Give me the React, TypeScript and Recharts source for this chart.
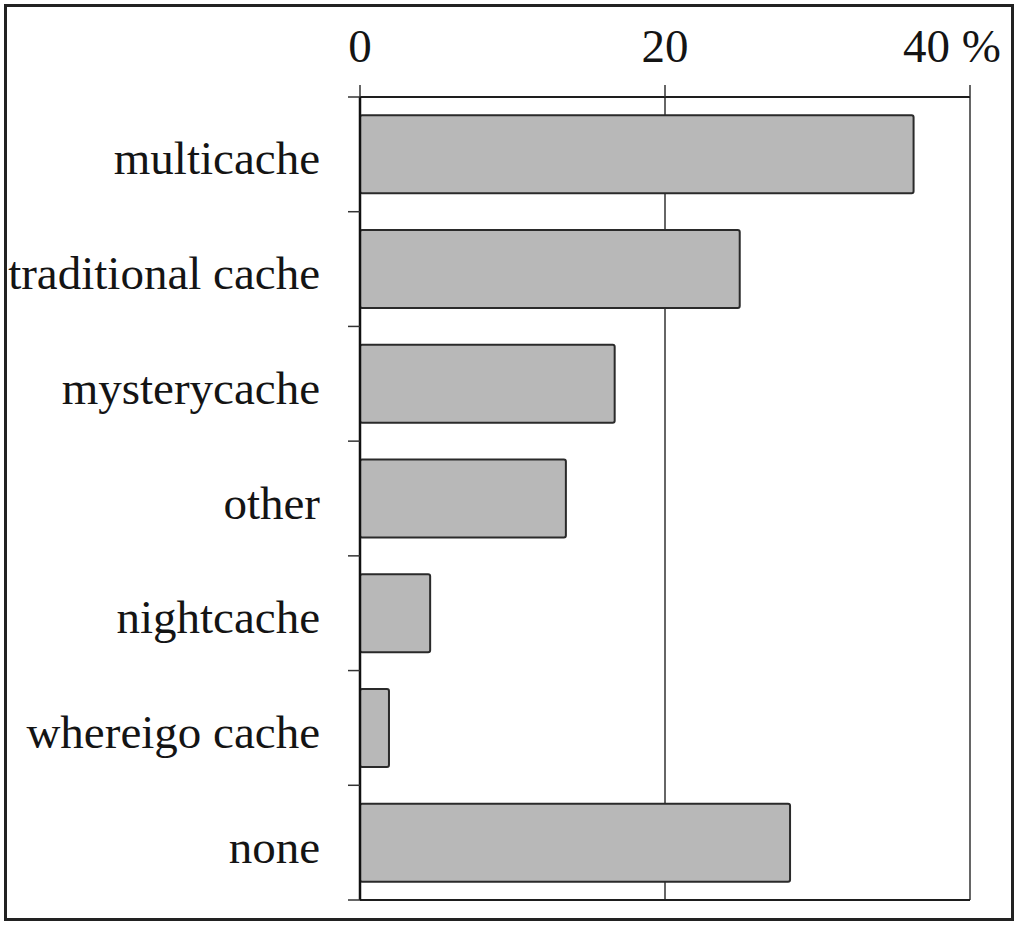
import { BarChart, Bar, XAxis, YAxis, CartesianGrid } from "recharts";

// share of respondents by favourite cache type (%)
const categories = [
  "multicache",
  "traditional cache",
  "mysterycache",
  "other",
  "nightcache",
  "whereigo cache",
  "none",
];
const shares = [36.3, 24.9, 16.7, 13.5, 4.6, 1.9, 28.2];
const xTicks = [0, 20, 40];

const rows = categories.map((name, i) => ({ name, share: shares[i] }));

const FONT = "'Liberation Serif', 'Times New Roman', serif";
const INK = "#141414";
const LABEL_GAP = 40;
const EDGE_TICK = 12;

type TickProps = {
  x?: number;
  y?: number;
  payload?: { value: string | number; offset?: number };
};

function TopTick({ x = 0, y = 0, payload }: TickProps) {
  const v = payload?.value;
  const last = v === xTicks[xTicks.length - 1];
  return (
    <text
      x={last ? x + 31 : x}
      y={y}
      dy={-21}
      textAnchor={last ? "end" : "middle"}
      fontFamily={FONT}
      fontSize={47}
      fill={INK}
    >
      {last ? `${v} %` : v}
    </text>
  );
}

// category label plus the short marks at the band boundaries
function NameTick({ x = 0, y = 0, payload }: TickProps) {
  const half = payload?.offset ?? 0;
  const axisX = x + LABEL_GAP;
  const isLast = payload?.value === categories[categories.length - 1];
  return (
    <g>
      <line x1={axisX - EDGE_TICK} x2={axisX} y1={y - half} y2={y - half} stroke="#333" strokeWidth={1.5} />
      {isLast && (
        <line x1={axisX - EDGE_TICK} x2={axisX} y1={y + half} y2={y + half} stroke="#333" strokeWidth={1.5} />
      )}
      <text x={x} y={y} dy={20} textAnchor="end" fontFamily={FONT} fontSize={47} fill={INK}>
        {payload?.value}
      </text>
    </g>
  );
}

const axisLine = { stroke: "#1e1e1e", strokeWidth: 2 };
const tickLine = { stroke: "#333", strokeWidth: 1.5 };

export default function App() {
  return (
    <div style={{ position: "absolute", left: 0, top: 0, width: 1024, height: 931, background: "#fff" }}>
      <div
        style={{
          position: "absolute",
          left: 4,
          top: 4,
          width: 1010,
          height: 917,
          border: "3px solid #222",
          boxSizing: "border-box",
        }}
      />
      <div style={{ position: "absolute", left: 0, top: 0 }}>
        <BarChart
          width={1024}
          height={931}
          data={rows}
          layout="vertical"
          margin={{ top: 0, right: 54, bottom: 30, left: 0 }}
          barCategoryGap="16%"
        >
          <CartesianGrid horizontal={false} stroke="#333" strokeWidth={1.5} />
          <XAxis
            type="number"
            orientation="top"
            domain={[0, 40]}
            ticks={xTicks}
            height={97}
            stroke="#222"
            tickSize={12}
            tickLine={tickLine}
            axisLine={axisLine}
            tick={<TopTick />}
            interval={0}
          />
          <XAxis
            xAxisId="bottom"
            type="number"
            orientation="bottom"
            domain={[0, 40]}
            allowDataOverflow
            ticks={xTicks}
            height={1}
            stroke="#222"
            axisLine={axisLine}
            tick={false}
            tickLine={false}
          />
          <YAxis
            type="category"
            dataKey="name"
            width={360}
            stroke="#111"
            tickLine={false}
            axisLine={{ stroke: "#111", strokeWidth: 2.5 }}
            tickSize={0}
            tickMargin={LABEL_GAP}
            tick={<NameTick />}
            interval={0}
          />
          <Bar
            dataKey="share"
            fill="#b8b8b8"
            stroke="#2a2a2a"
            strokeWidth={2}
            radius={2}
            isAnimationActive={false}
          />
        </BarChart>
      </div>
    </div>
  );
}
